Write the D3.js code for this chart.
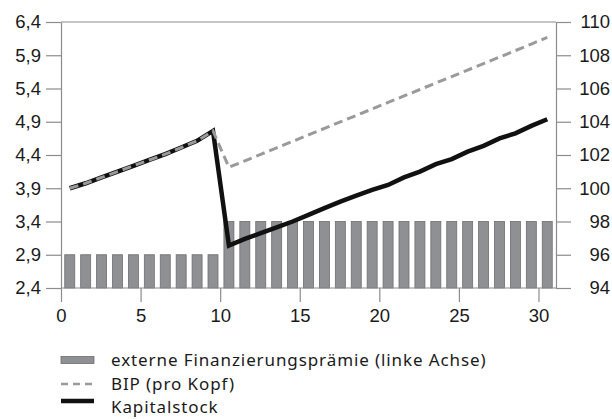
<!DOCTYPE html>
<html>
<head>
<meta charset="utf-8">
<script src="https://cdn.jsdelivr.net/npm/d3@7"></script>
<style>
  body { margin: 0; background: #fff; }
  svg { display: block; font-family: "Noto Sans", sans-serif; }
</style>
</head>
<body>
<svg id="chart" width="612" height="419"></svg>
<script>
// periods (bar / point positions on the x axis)
const periods = d3.range(31).map(k => k + 0.55);

// externe Finanzierungsprämie (left axis)
const premium = [2.9, 2.9, 2.9, 2.9, 2.9, 2.9, 2.9, 2.9, 2.9, 2.9,
    3.4, 3.4, 3.4, 3.4, 3.4, 3.4, 3.4, 3.4, 3.4, 3.4, 3.4,
    3.4, 3.4, 3.4, 3.4, 3.4, 3.4, 3.4, 3.4, 3.4, 3.4];

// BIP (pro Kopf), right axis
const gdp = [100.0, 100.3, 100.65, 101.0, 101.35, 101.7, 102.05, 102.45, 102.85, 103.45,
    101.26, 101.65, 102.04, 102.43, 102.82, 103.21, 103.6, 103.99, 104.38, 104.77, 105.16,
    105.55, 105.94, 106.33, 106.72, 107.11, 107.5, 107.89, 108.28, 108.67, 109.08];

// Kapitalstock, right axis
const capital = [100.0, 100.3, 100.65, 101.0, 101.35, 101.7, 102.05, 102.45, 102.85, 103.45,
    96.55, 96.95, 97.3, 97.65, 98.0, 98.4, 98.8, 99.2, 99.55, 99.9, 100.2,
    100.65, 101.0, 101.45, 101.75, 102.2, 102.55, 103.0, 103.3, 103.75, 104.15];

const leftTicks = [2.4, 2.9, 3.4, 3.9, 4.4, 4.9, 5.4, 5.9, 6.4];
const rightTicks = [94, 96, 98, 100, 102, 104, 106, 108, 110];
const xTicks = [0, 5, 10, 15, 20, 25, 30];

const legendLabels = [`externe Finanzierungsprämie (linke Achse)`, `BIP (pro Kopf)`, `Kapitalstock`];

const svg = d3.select(`#chart`);
const plotLeft = 61, plotRight = 556, plotTop = 22, plotBottom = 288;
const axisColor = `#8c8c8c`;
const barColor = `#8f9093`;
const dashColor = `#9a9a9a`;
const textColor = `#1a1a1a`;

const x = d3.scaleLinear().domain([0, 31.1]).range([plotLeft, plotRight]);
const yL = d3.scaleLinear().domain([2.4, 6.4]).range([plotBottom, plotTop]);
const yR = d3.scaleLinear().domain([94, 110]).range([plotBottom, plotTop]);

const comma = d3.formatLocale({ decimal: `,`, thousands: `.`, grouping: [3], currency: [``, `€`] });

// bars
svg.append(`g`)
    .selectAll(`rect`)
    .data(premium)
    .enter()
    .append(`rect`)
    .attr(`x`, (d, i) => x(periods[i]) - 5)
    .attr(`width`, 10)
    .attr(`y`, d => yL(d))
    .attr(`height`, d => yL(2.4) - yL(d))
    .attr(`fill`, barColor)
    .attr(`stroke`, `#6e6e70`)
    .attr(`stroke-width`, 0.8);

// top frame line
svg.append(`line`)
    .attr(`x1`, plotLeft).attr(`x2`, plotRight)
    .attr(`y1`, plotTop).attr(`y2`, plotTop)
    .attr(`stroke`, axisColor).attr(`stroke-width`, 1.2);

const styleAxis = (g) => {
    g.selectAll(`.domain`).attr(`stroke`, axisColor).attr(`stroke-width`, 1.2);
    g.selectAll(`.tick line`).attr(`stroke`, axisColor).attr(`stroke-width`, 1.2);
    g.selectAll(`.tick text`).attr(`fill`, textColor).style(`font-size`, `18.5px`);
};

svg.append(`g`)
    .attr(`transform`, `translate(${plotLeft},0)`)
    .call(d3.axisLeft(yL).tickValues(leftTicks).tickFormat(comma.format(`.1f`))
        .tickSize(15).tickSizeOuter(0).tickPadding(5))
    .call(styleAxis);

svg.append(`g`)
    .attr(`transform`, `translate(${plotRight},0)`)
    .call(d3.axisRight(yR).tickValues(rightTicks)
        .tickSize(15).tickSizeOuter(0).tickPadding(3))
    .call(styleAxis)
    .call(g => g.selectAll(`.tick text`).attr(`text-anchor`, `end`).attr(`x`, 54));

svg.append(`g`)
    .attr(`transform`, `translate(0,${plotBottom})`)
    .call(d3.axisBottom(x).tickValues(xTicks)
        .tickSize(14).tickSizeOuter(0).tickPadding(7))
    .call(styleAxis)
    .call(g => g.select(`.domain`).attr(`d`, `M${plotLeft},0H${plotRight}`));

// lines
const line = d3.line()
    .x((d, i) => x(periods[i]))
    .y(d => yR(d));

svg.append(`path`)
    .datum(capital)
    .attr(`d`, line)
    .attr(`fill`, `none`)
    .attr(`stroke`, `#111`)
    .attr(`stroke-width`, 4.5)
    .attr(`stroke-linejoin`, `miter`);

svg.append(`path`)
    .datum(gdp)
    .attr(`d`, line)
    .attr(`fill`, `none`)
    .attr(`stroke`, dashColor)
    .attr(`stroke-width`, 3)
    .attr(`stroke-dasharray`, `9,5`);

// legend
const legend = svg.append(`g`);
const rowY = [360, 384, 407];

legend.append(`rect`)
    .attr(`x`, 61).attr(`y`, rowY[0] - 3.5)
    .attr(`width`, 33).attr(`height`, 7)
    .attr(`fill`, barColor)
    .attr(`stroke`, `#6e6e70`)
    .attr(`stroke-width`, 0.8);

legend.append(`line`)
    .attr(`x1`, 61).attr(`x2`, 94)
    .attr(`y1`, rowY[1]).attr(`y2`, rowY[1])
    .attr(`stroke`, dashColor)
    .attr(`stroke-width`, 2.5)
    .attr(`stroke-dasharray`, `7,5`);

legend.append(`line`)
    .attr(`x1`, 61).attr(`x2`, 94)
    .attr(`y1`, rowY[2] - 6).attr(`y2`, rowY[2] - 6)
    .attr(`stroke`, `#111`)
    .attr(`stroke-width`, 4.5);

legend.selectAll(`text`)
    .data(legendLabels)
    .enter()
    .append(`text`)
    .attr(`x`, 111)
    .attr(`y`, (d, i) => rowY[i])
    .attr(`dy`, `.35em`)
    .attr(`fill`, textColor)
    .style(`font-size`, `17px`)
    .style(`letter-spacing`, `0.9px`)
    .text(d => d);
</script>
</body>
</html>
